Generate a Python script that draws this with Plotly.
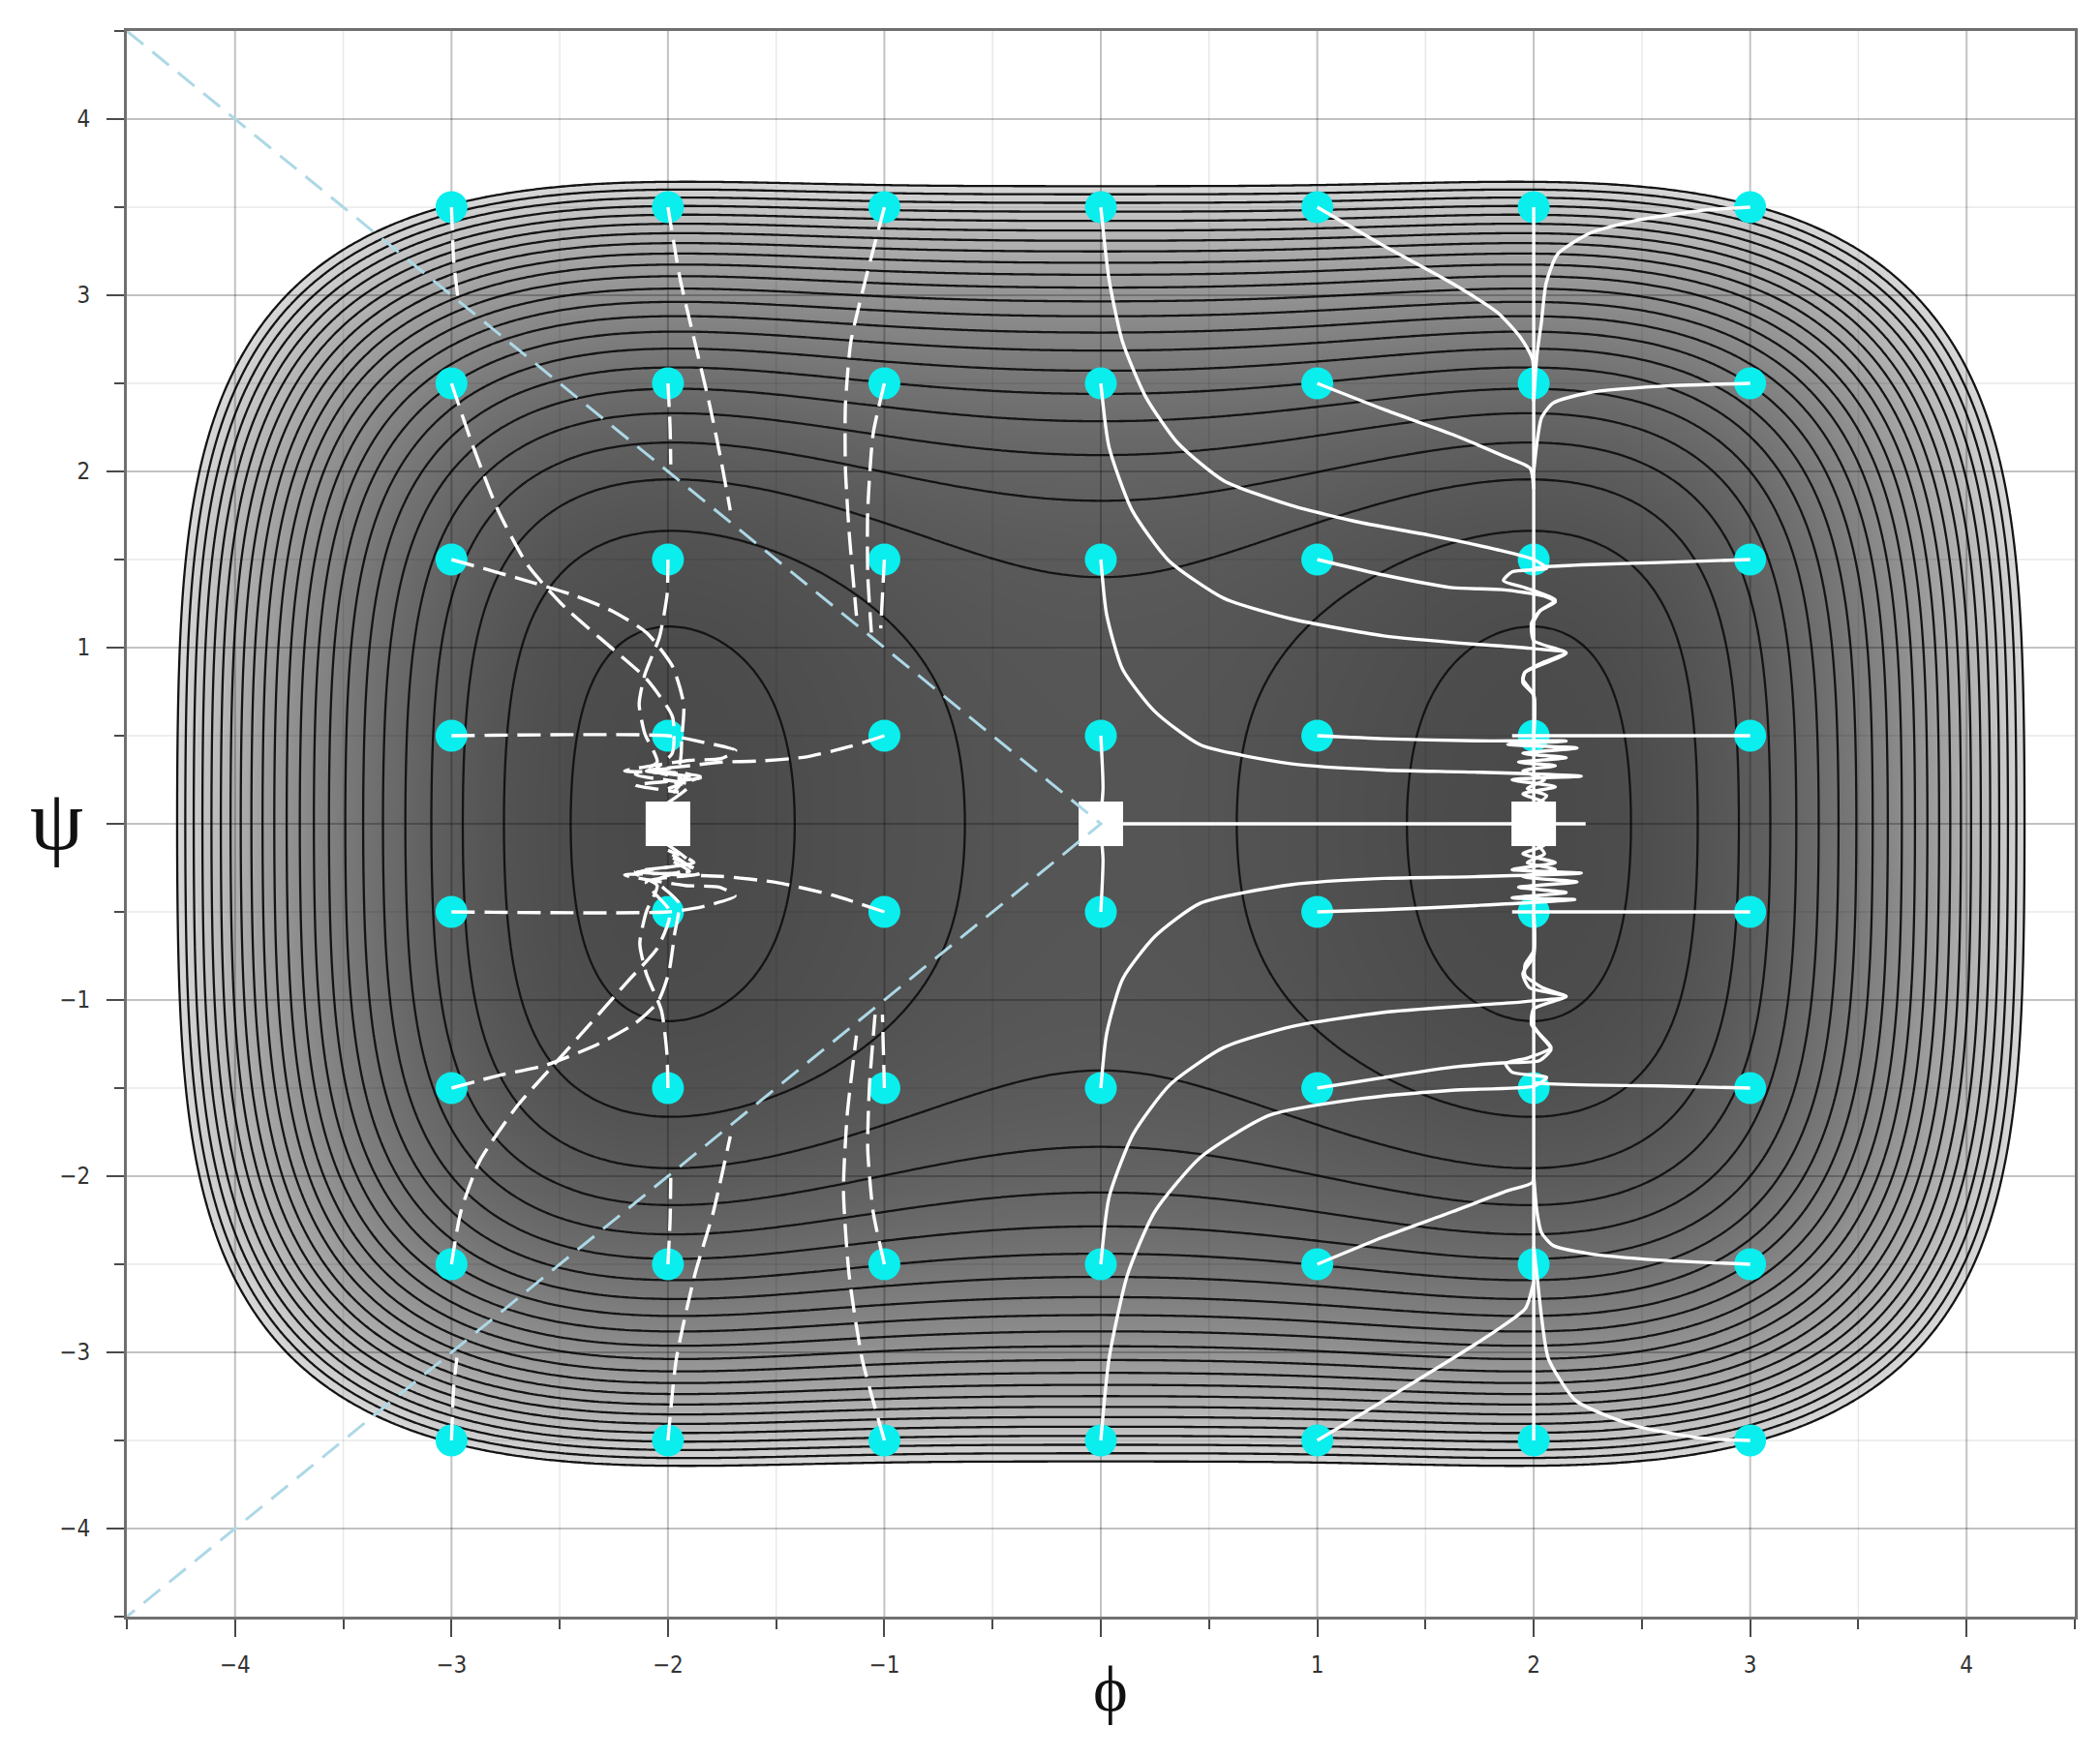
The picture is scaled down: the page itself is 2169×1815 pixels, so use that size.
import numpy as np
import plotly.graph_objects as go

# potential: V = (phi^2 - WELL)^2 + psi^4 + h(phi) * psi^2
WELL = 4.0
PSI2_FAR = 2.0
PSI2_DIP = 0.9
DIP_WIDTH = 1.5
LEVEL_START, LEVEL_STEP, N_LEVELS = 4.0, 9.0, 23

start_phi = [-3, -2, -1, 0, 1, 2, 3]
start_psi = [3.5, 2.5, 1.5, 0.5, -0.5, -1.5, -2.5, -3.5]

eq_phi = [-2, 0, 2]
eq_psi = [0, 0, 0]

diag_phi = [-4.5, 0, -4.5]
diag_psi = [4.5, 0, -4.5]

tick_vals = [-4, -3, -2, -1, 0, 1, 2, 3, 4]
tick_text = ["\u22124", "\u22123", "\u22122", "\u22121", "", "1", "2", "3", "4"]
minor_vals = [-3.5, -2.5, -1.5, -0.5, 0.5, 1.5, 2.5, 3.5]

# trajectories attracted to the left well (dashed)
dashed_upper = [
    [(-3, 3.5), (-2.99, 3.2), (-2.97, 2.98)],
    [(-3, 2.5), (-2.906, 2.161), (-2.785, 1.779), (-2.648, 1.468), (-2.476, 1.229),
     (-2.253, 0.99), (-2.099, 0.822), (-1.979, 0.607), (-1.98, 0.4), (-2.06, 0.3),
     (-1.93, 0.25), (-2.0, 0.15)],
    [(-3, 1.5), (-2.70, 1.396), (-2.442, 1.30), (-2.253, 1.205), (-2.099, 1.085),
     (-1.979, 0.894), (-1.927, 0.679), (-1.936, 0.488), (-1.95, 0.33), (-2.1, 0.3),
     (-1.85, 0.27), (-2.0, 0.2)],
    [(-2, 1.5), (-2.004, 1.30), (-2.039, 1.062), (-2.107, 0.846), (-2.133, 0.679),
     (-2.107, 0.512), (-2.05, 0.35), (-2.15, 0.28), (-1.9, 0.22), (-2.0, 0.12)],
    [(-2, 3.5), (-1.944, 3.094), (-1.876, 2.735), (-1.807, 2.376), (-1.755, 2.066),
     (-1.712, 1.779)],
    [(-2, 2.5), (-1.99, 2.25), (-1.987, 2.04)],
    [(-1, 3.5), (-1.086, 3.094), (-1.155, 2.735), (-1.18, 2.376), (-1.18, 2.018),
     (-1.163, 1.659), (-1.129, 1.181)],
    [(-1, 2.5), (-1.052, 2.213), (-1.077, 1.779), (-1.077, 1.42), (-1.06, 1.086)],
    [(-1, 1.5), (-1.017, 1.109)],
    [(-1, 0.5), (-1.155, 0.44), (-1.36, 0.38), (-1.584, 0.356), (-1.75, 0.35),
     (-1.9, 0.33), (-2.1, 0.3), (-1.85, 0.26), (-2.15, 0.22), (-1.95, 0.18)],
    [(-3, 0.5), (-2, 0.5), (-1.841, 0.464), (-1.687, 0.416), (-1.755, 0.37),
     (-1.9, 0.36), (-2.2, 0.3), (-1.9, 0.28), (-2.0, 0.2)],
]
dashed_lower = [
    [(-3, -3.5), (-2.99, -3.2), (-2.975, -3.03)],
    [(-3, -2.5), (-2.957, -2.202), (-2.871, -1.917), (-2.70, -1.607), (-2.528, -1.369),
     (-2.356, -1.131), (-2.185, -0.893), (-2.047, -0.702), (-1.99, -0.5), (-2.1, -0.33),
     (-1.85, -0.28), (-2.0, -0.18)],
    [(-3, -1.5), (-2.785, -1.429), (-2.562, -1.369), (-2.322, -1.25), (-2.15, -1.131),
     (-2.047, -1.012), (-1.996, -0.845), (-1.97, -0.631), (-1.95, -0.45), (-2.05, -0.32),
     (-1.9, -0.25), (-2.0, -0.16)],
    [(-2, -1.5), (-2.005, -1.3), (-2.03, -1.06), (-2.1, -0.85), (-2.13, -0.68),
     (-2.1, -0.5), (-2.05, -0.35), (-2.15, -0.28), (-1.9, -0.22), (-2.0, -0.12)],
    [(-2, -3.5), (-1.961, -3.036), (-1.876, -2.56), (-1.79, -2.202), (-1.712, -1.774)],
    [(-2, -2.5), (-1.99, -2.25), (-1.987, -2.01)],
    [(-1, -3.5), (-1.103, -3.036), (-1.163, -2.56), (-1.189, -2.083), (-1.172, -1.655),
     (-1.129, -1.202)],
    [(-1, -2.5), (-1.052, -2.202), (-1.077, -1.845), (-1.069, -1.488), (-1.043, -1.083)],
    [(-1, -1.5), (-1.009, -1.083)],
    [(-1, -0.5), (-1.24, -0.405), (-1.498, -0.333), (-1.755, -0.298), (-1.95, -0.29),
     (-2.15, -0.27), (-1.88, -0.22), (-2.0, -0.15)],
    [(-3, -0.5), (-2, -0.5), (-1.84, -0.47), (-1.69, -0.41), (-1.76, -0.36),
     (-1.92, -0.35), (-2.2, -0.29), (-1.9, -0.27), (-2.0, -0.2)],
]

# trajectories going to the saddle / right well (solid)
solid_upper = [
    [(0, 3.5), (0.038, 3.09), (0.101, 2.733), (0.207, 2.424), (0.355, 2.162),
     (0.567, 1.948), (0.884, 1.805), (1.2, 1.71), (1.518, 1.638), (1.835, 1.555),
     (2.0, 1.5), (2.06, 1.45), (1.9, 1.43), (1.86, 1.38), (1.96, 1.34), (2.1, 1.27),
     (2.03, 1.21), (1.99, 1.14), (2.0, 1.04), (2.15, 0.97), (1.96, 0.86), (1.95, 0.82),
     (2.0, 0.73), (2.0, 0.5)],
    [(0, 2.5), (0.038, 2.138), (0.144, 1.781), (0.313, 1.495), (0.567, 1.281),
     (0.884, 1.162), (1.307, 1.067), (1.729, 1.019), (1.95, 1.0), (2.15, 0.97),
     (2.05, 0.92), (1.96, 0.86), (1.95, 0.8), (2.0, 0.73), (2.0, 0.5)],
    [(0, 1.5), (0.027, 1.186), (0.101, 0.876), (0.249, 0.638), (0.461, 0.448),
     (0.884, 0.34), (1.307, 0.305), (1.729, 0.293), (2.22, 0.27), (1.9, 0.25),
     (2.1, 0.21), (1.95, 0.17), (2.05, 0.12), (2.0, 0.05)],
    [(0, 0.5), (0.01, 0.2), (0.0, 0.05)],
    [(1, 3.5), (1.307, 3.281), (1.624, 3.067), (1.835, 2.9), (1.941, 2.757),
     (1.994, 2.638), (2.0, 2.4)],
    [(2, 3.5), (2, 0)],
    [(3, 3.5), (2.786, 3.483), (2.469, 3.424), (2.258, 3.352), (2.11, 3.233),
     (2.057, 3.067), (2.036, 2.852), (2.015, 2.662), (2.0, 2.4)],
    [(1, 2.5), (1.307, 2.352), (1.624, 2.21), (1.856, 2.09), (1.983, 2.019), (2.0, 1.9)],
    [(3, 2.5), (2.575, 2.483), (2.258, 2.448), (2.089, 2.388), (2.036, 2.305),
     (2.015, 2.162), (2.0, 2.0)],
    [(1, 1.5), (1.307, 1.412), (1.624, 1.34), (1.856, 1.329), (2.047, 1.293),
     (2.1, 1.26), (2.03, 1.21), (2.0, 1.15)],
    [(3, 1.5), (2.575, 1.483), (2.258, 1.471), (2.068, 1.46), (2.0, 1.45)],
    [(1, 0.5), (1.307, 0.483), (1.729, 0.471), (2.15, 0.47), (1.88, 0.45), (2.2, 0.43),
     (1.95, 0.4), (2.15, 0.375), (1.93, 0.35), (2.1, 0.33), (1.95, 0.3), (2.05, 0.25),
     (1.97, 0.2), (2.06, 0.16), (2.0, 0.1)],
    [(3, 0.5), (2.4, 0.5), (1.9, 0.5)],
    [(0.05, 0), (2.24, 0)],
]
solid_lower = [
    [(0, -3.5), (0.038, -3.036), (0.123, -2.56), (0.249, -2.202), (0.461, -1.893),
     (0.778, -1.655), (1.2, -1.56), (1.624, -1.512), (2.004, -1.488), (2.06, -1.44),
     (1.9, -1.41), (1.87, -1.36), (1.97, -1.33), (2.08, -1.27), (2.04, -1.21),
     (1.99, -1.14), (2.0, -1.05), (2.15, -0.98), (1.98, -0.93), (1.95, -0.85),
     (2.0, -0.75), (2.0, -0.5)],
    [(0, -2.5), (0.038, -2.12), (0.15, -1.76), (0.32, -1.48), (0.567, -1.27),
     (0.884, -1.15), (1.307, -1.07), (1.729, -1.03), (1.95, -1.01), (2.15, -0.98),
     (2.04, -0.93), (1.96, -0.86), (1.96, -0.8), (2.0, -0.72), (2.0, -0.5)],
    [(0, -1.5), (0.027, -1.19), (0.101, -0.88), (0.249, -0.64), (0.461, -0.45),
     (0.884, -0.345), (1.307, -0.31), (1.729, -0.30), (2.22, -0.28), (1.9, -0.26),
     (2.1, -0.22), (1.95, -0.17), (2.05, -0.12), (2.0, -0.05)],
    [(0, -0.5), (0.01, -0.2), (0.0, -0.05)],
    [(1, -3.5), (1.307, -3.274), (1.624, -3.036), (1.835, -2.869), (1.962, -2.75),
     (2.0, -2.6)],
    [(2, -3.5), (2, 0)],
    [(3, -3.5), (2.786, -3.488), (2.469, -3.417), (2.195, -3.274), (2.068, -3.036),
     (2.036, -2.798), (2.015, -2.56), (2.0, -2.4)],
    [(1, -2.5), (1.307, -2.345), (1.624, -2.202), (1.878, -2.083), (1.994, -2.036),
     (2.0, -1.95)],
    [(3, -2.5), (2.575, -2.476), (2.258, -2.44), (2.089, -2.393), (2.036, -2.321),
     (2.015, -2.202), (2.0, -2.0)],
    [(1, -1.5), (1.307, -1.44), (1.624, -1.381), (1.856, -1.357), (2.025, -1.345),
     (2.08, -1.28), (2.03, -1.2), (2.0, -1.15)],
    [(3, -1.5), (2.575, -1.488), (2.258, -1.483), (2.068, -1.476), (2.0, -1.47)],
    [(1, -0.5), (1.307, -0.488), (1.729, -0.464), (2.19, -0.43), (1.9, -0.42),
     (2.15, -0.39), (1.93, -0.36), (2.2, -0.33), (1.95, -0.3), (2.1, -0.26),
     (1.97, -0.22), (2.05, -0.17), (2.0, -0.1)],
    [(3, -0.5), (2.4, -0.5), (1.9, -0.5)],
]

# surface
axis = np.linspace(-4.5, 4.5, 451)
PHI, PSI = np.meshgrid(axis, axis)
h = PSI2_FAR - PSI2_DIP * np.exp(-PHI ** 2 / DIP_WIDTH)
V = (PHI ** 2 - WELL) ** 2 + PSI ** 4 + h * PSI ** 2

level_end = LEVEL_START + LEVEL_STEP * (N_LEVELS - 1)
zmax = level_end + 8.0
edge = level_end / zmax
colorscale = [
    [0.0, "rgb(74,74,74)"],
    [edge, "rgb(216,216,216)"],
    [edge + 0.004, "rgb(255,255,255)"],
    [1.0, "rgb(255,255,255)"],
]

fig = go.Figure()
fig.add_trace(go.Contour(
    x=axis, y=axis, z=V,
    contours=dict(start=LEVEL_START, end=level_end, size=LEVEL_STEP, coloring="heatmap"),
    colorscale=colorscale, zmin=0, zmax=zmax, zauto=False, showscale=False,
    line=dict(color="rgb(20,20,20)", width=2.3, smoothing=1.0),
    hoverinfo="skip",
))


def grid_trace(vals, color, width):
    gx, gy = [], []
    for v in vals:
        gx += [v, v, None, -4.5, 4.5, None]
        gy += [-4.5, 4.5, None, v, v, None]
    return go.Scatter(x=gx, y=gy, mode="lines", line=dict(color=color, width=width),
                      showlegend=False, hoverinfo="skip")


fig.add_trace(grid_trace(minor_vals, "rgba(0,0,0,0.09)", 1.5))
fig.add_trace(grid_trace(tick_vals, "rgba(0,0,0,0.24)", 2))

# start points
gx, gy = np.meshgrid(start_phi, start_psi)
fig.add_trace(go.Scatter(
    x=gx.ravel(), y=gy.ravel(), mode="markers",
    marker=dict(color="rgb(10,238,238)", size=33, line=dict(width=0)),
    showlegend=False,
))

for group, dash in ((dashed_upper, "24px,10px"), (dashed_lower, "24px,10px"),
                    (solid_upper, "solid"), (solid_lower, "solid")):
    for path in group:
        fig.add_trace(go.Scatter(
            x=[p[0] for p in path], y=[p[1] for p in path], mode="lines",
            line=dict(color="white", width=3.4, dash=dash, shape="spline", smoothing=0.6),
            showlegend=False, hoverinfo="skip",
        ))

fig.add_trace(go.Scatter(
    x=eq_phi, y=eq_psi, mode="markers",
    marker=dict(symbol="square", color="white", size=46, line=dict(width=0)),
    showlegend=False,
))
fig.add_trace(go.Scatter(
    x=diag_phi, y=diag_psi, mode="lines",
    line=dict(color="rgb(173,216,230)", width=3, dash="22px,12px"),
    showlegend=False, hoverinfo="skip",
))

axis_style = dict(
    range=[-4.5, 4.5], tickvals=tick_vals, ticktext=tick_text,
    showline=True, linecolor="#707070", linewidth=3, mirror=True,
    ticks="outside", ticklen=18, tickwidth=2, tickcolor="#4a4a4a",
    showgrid=False, zeroline=False,
    minor=dict(dtick=0.5, ticks="outside", ticklen=10, tickwidth=2, tickcolor="#4a4a4a",
               showgrid=False),
    tickfont=dict(family="Liberation Sans Narrow, DejaVu Sans Condensed, Arial Narrow, sans-serif",
                  size=24, color="#333333"),
)
fig.update_xaxes(**axis_style, ticklabelstandoff=8)
fig.update_yaxes(**axis_style, ticklabelstandoff=12)

fig.update_layout(
    width=2169, height=1815,
    margin=dict(l=131, r=26, t=32, b=145),
    plot_bgcolor="white", paper_bgcolor="white",
    showlegend=False,
    annotations=[
        dict(text="\u03d5", x=0.505, y=-0.046, xref="paper", yref="paper",
             xanchor="center", yanchor="middle", showarrow=False,
             font=dict(family="Liberation Serif, DejaVu Serif, serif", size=68, color="#111")),
        dict(text="\u03c8", x=-0.036, y=0.502, xref="paper", yref="paper",
             xanchor="center", yanchor="middle", showarrow=False,
             font=dict(family="Liberation Serif, DejaVu Serif, serif", size=88, color="#111")),
    ],
)

fig.write_html("out.html", config={"displayModeBar": False},
               post_script="document.body.style.margin='0';")
